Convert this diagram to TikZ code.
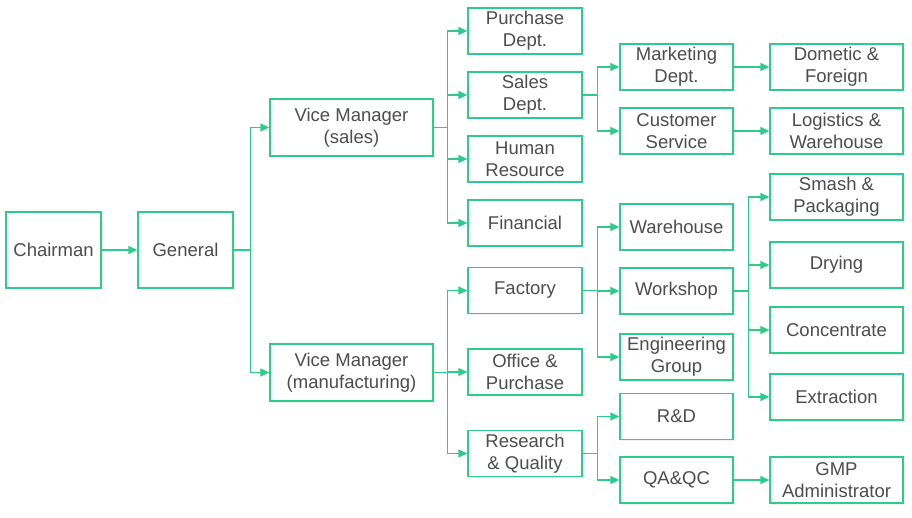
\documentclass[tikz,border=0pt]{standalone}
\usepackage{fontspec}
\setmainfont{Liberation Sans}
\usetikzlibrary{arrows.meta,shadows}
\definecolor{bgreen}{RGB}{46,204,139}
\definecolor{tgray}{RGB}{77,77,77}
\tikzset{
  box/.style={draw=bgreen, line width=1.3pt, fill=white, align=center, text=tgray,
    font=\fontsize{18.5}{22}\selectfont, inner sep=0pt,
    drop shadow={opacity=0.12, shadow xshift=1.5pt, shadow yshift=-1.5pt}},
  bA/.style={box, minimum width=95pt, minimum height=76pt},
  bB/.style={box, minimum width=163pt, minimum height=57pt},
  bC/.style={box, minimum width=114pt, minimum height=46pt},
  bD/.style={box, minimum width=113pt, minimum height=46pt},
  bE/.style={box, minimum width=133pt, minimum height=46pt},
  conn/.style={draw=bgreen, line width=1.3pt, -{Triangle[length=9pt,width=8pt]}},
}
\begin{document}
\begin{tikzpicture}[x=1pt,y=-1pt]
\useasboundingbox (0,0) rectangle (912,518);
% column 1-2
\node[bA] (chair) at (53.5,250) {Chairman};
\node[bA] (gen) at (185.5,250) {General};
% vice managers
\node[bB] (vms) at (351.5,127.5) {Vice Manager\\(sales)};
\node[bB] (vmm) at (351.5,372.5) {Vice Manager\\(manufacturing)};
% column 4
\node[bC] (pur) at (525,31) {Purchase\\Dept.};
\node[bC] (sal) at (525,95) {Sales\\Dept.};
\node[bC] (hr) at (525,159) {Human\\Resource};
\node[bC] (fin) at (525,223) {Financial};
\node[bC] (fac) at (525,290.5) {Factory};
\node[bC] (off) at (525,372) {Office \&\\Purchase};
\node[bC] (rq) at (525,453.5) {Research\\\& Quality};
% column 5
\node[bD] (mkt) at (676.5,67) {Marketing\\Dept.};
\node[bD] (cus) at (676.5,131) {Customer\\Service};
\node[bD] (wh) at (676.5,227) {Warehouse};
\node[bD] (ws) at (676.5,291) {Workshop};
\node[bD] (eng) at (676.5,357) {Engineering\\Group};
\node[bD] (rd) at (676.5,416.5) {R\&D};
\node[bD] (qa) at (676.5,480) {QA\&QC};
% column 6
\node[bE] (dom) at (836.5,67) {Dometic \&\\Foreign};
\node[bE] (log) at (836.5,131) {Logistics \&\\Warehouse};
\node[bE] (sma) at (836.5,197) {Smash \&\\Packaging};
\node[bE] (dry) at (836.5,265) {Drying};
\node[bE] (con) at (836.5,330) {Concentrate};
\node[bE] (ext) at (836.5,397) {Extraction};
\node[bE] (gmp) at (836.5,480) {GMP\\Administrator};
% connectors
\draw[conn] (chair) -- (gen);
\draw[conn] (gen.east) -- ++(17,0) |- (vms.west);
\draw[conn] (gen.east) -- ++(17,0) |- (vmm.west);
\foreach \t in {pur,sal,hr,fin} \draw[conn] (vms.east) -- ++(14,0) |- (\t.west);
\foreach \t in {fac,off,rq} \draw[conn] (vmm.east) -- ++(14,0) |- (\t.west);
\foreach \t in {mkt,cus} \draw[conn] (sal.east) -- ++(15,0) |- (\t.west);
\foreach \t in {wh,ws,eng} \draw[conn] (fac.east) -- ++(15,0) |- (\t.west);
\foreach \t in {rd,qa} \draw[conn] (rq.east) -- ++(15,0) |- (\t.west);
\foreach \t in {sma,dry,con,ext} \draw[conn] (ws.east) -- ++(15,0) |- (\t.west);
\draw[conn] (mkt) -- (dom);
\draw[conn] (cus) -- (log);
\draw[conn] (qa) -- (gmp);
\end{tikzpicture}
\end{document}
